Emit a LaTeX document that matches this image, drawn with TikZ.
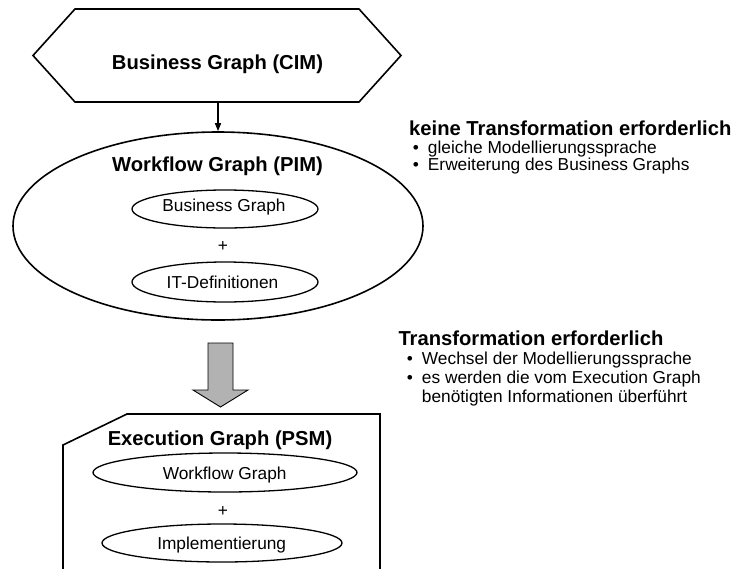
\documentclass[tikz,border=0pt]{standalone}
\usepackage{fontspec}
\setmainfont{Liberation Sans}
\usetikzlibrary{shapes.geometric,arrows.meta}

\tikzset{
  headline/.style={font=\fontsize{20.2}{24}\selectfont\bfseries, inner sep=0pt},
  plain/.style={font=\fontsize{17.3}{20}\selectfont, inner sep=0pt},
  outline/.style={draw=black, line width=1.6pt, line join=miter},
  part/.style={ellipse, draw=black, line width=1.3pt, inner sep=0pt},
  flow/.style={-{Triangle[width=6pt,length=8pt]}, line width=1.2pt},
}

\begin{document}
\begin{tikzpicture}[x=1pt, y=-1pt]
  \useasboundingbox (0,0) rectangle (738,568);
  \clip (0,0) rectangle (738,568);

  % computation independent model: hexagon
  \coordinate (hexL) at (33,55.5);
  \coordinate (hexTL) at (75,9);
  \coordinate (hexTR) at (359,9);
  \coordinate (hexR) at (401,55.5);
  \coordinate (hexBR) at (359,102);
  \coordinate (hexBL) at (75,102);
  \coordinate (hexB) at (218,102);
  \draw[outline] (hexL) -- (hexTL) -- (hexTR) -- (hexR) -- (hexBR) -- (hexBL) -- cycle;
  \node[headline, anchor=base] (cim) at (217.5,69) {Business Graph (CIM)};

  % platform independent model: large ellipse
  \node[ellipse, outline, minimum width=410pt, minimum height=188pt, inner sep=0pt] (pim) at (218,226) {};
  \node[headline, anchor=base] (pimtitle) at (217.5,171) {Workflow Graph (PIM)};
  \node[part, minimum width=186pt, minimum height=38pt] (bg) at (225,209) {};
  \node[plain, anchor=base] (bgtext) at (224,211) {Business Graph};
  \node[plain, anchor=base] (plus1) at (223,251) {+};
  \node[part, minimum width=186pt, minimum height=40pt] (itdef) at (225,282) {};
  \node[plain, anchor=base] (itdeftext) at (222.5,288.3) {IT-Definitionen};

  \draw[flow] (hexB) -- (pim.north);

  % transformation arrow
  \draw[fill=black!30, draw=black, line width=0.9pt, line join=miter]
    (208,343) -- (233,343) -- (233,390) -- (248,390) -- (220.5,407)
    -- (193,390) -- (208,390) -- cycle;

  % platform specific model: box with cut corner
  \coordinate (boxA) at (127,414);
  \coordinate (boxB) at (380,414);
  \coordinate (boxC) at (380,575);
  \coordinate (boxD) at (63,575);
  \coordinate (boxE) at (63,445);
  \draw[outline] (boxC) -- (boxB) -- (boxA) -- (boxE) -- (boxD);
  \node[headline, anchor=base] (psmtitle) at (220,445) {Execution Graph (PSM)};
  \node[part, minimum width=264pt, minimum height=39pt] (wfg) at (225,472.5) {};
  \node[plain, anchor=base] (wfgtext) at (224.7,479.3) {Workflow Graph};
  \node[plain, anchor=base] (plus2) at (223,516) {+};
  \node[part, minimum width=240pt, minimum height=38pt] (impl) at (222,543) {};
  \node[plain, anchor=base] (impltext) at (221.7,549.3) {Implementierung};

  % notes on the right
  \node[headline, anchor=base west] (note1) at (409,135) {keine Transformation erforderlich};
  \node[plain, anchor=base west] (note1a) at (412.7,153) {•\hspace{9pt}gleiche Modellierungssprache};
  \node[plain, anchor=base west] (note1b) at (412.7,170.5) {•\hspace{9pt}Erweiterung des Business Graphs};

  \node[headline, anchor=base west] (note2) at (398.3,345.7) {Transformation erforderlich};
  \node[plain, anchor=base west] (note2a) at (406.7,364.3) {•\hspace{9pt}Wechsel der Modellierungssprache};
  \node[plain, anchor=base west] (note2b) at (406.7,383.3) {•\hspace{9pt}es werden die vom Execution Graph};
  \node[plain, anchor=base west] (note2c) at (421.7,402.3) {benötigten Informationen überführt};
\end{tikzpicture}
\end{document}
